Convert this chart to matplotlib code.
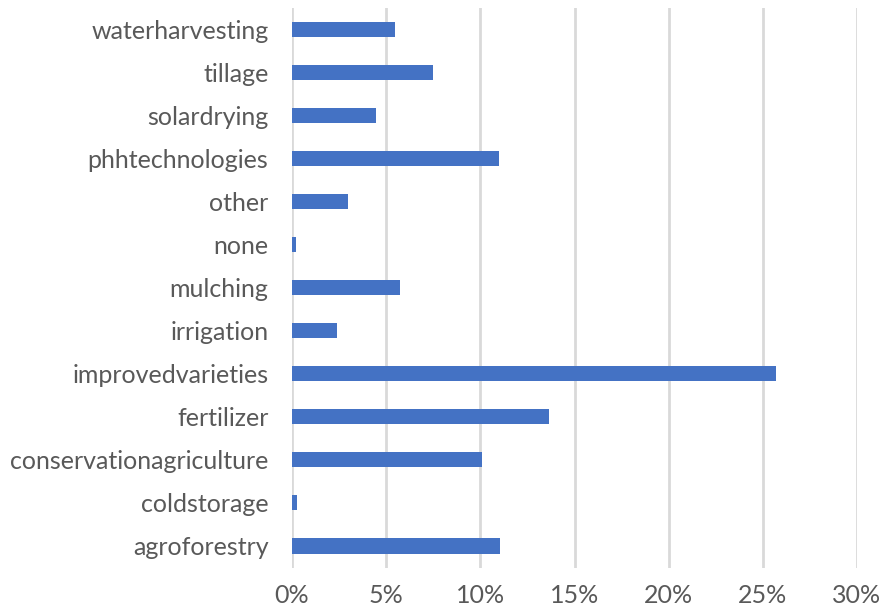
import matplotlib.pyplot as plt
from matplotlib.ticker import FuncFormatter

# Categories (bottom to top as drawn) and share of respondents
categories = ['agroforestry', 'coldstorage', 'conservationagriculture', 'fertilizer',
              'improvedvarieties', 'irrigation', 'mulching', 'none', 'other',
              'phhtechnologies', 'solardrying', 'tillage', 'waterharvesting']
shares = [0.1104, 0.0028, 0.1007, 0.1366, 0.2571, 0.0241, 0.0576, 0.0023, 0.0296,
          0.1100, 0.0448, 0.0750, 0.0547]
x_ticks = [0, 0.05, 0.10, 0.15, 0.20, 0.25, 0.30]

plt.rcParams['font.family'] = ['Lato', 'DejaVu Sans']

fig = plt.figure(figsize=(8.82, 6.11), dpi=100)
ax = fig.add_axes([292 / 882, 1 - 567.5 / 611, (857 - 292) / 882, (567.5 - 7.5) / 611])

ax.barh(range(len(categories)), shares, height=0.35, color='#4472C4', zorder=3)

ax.set_xlim(0, 0.30)
ax.set_ylim(-0.5, len(categories) - 0.5)
ax.set_xticks(x_ticks)
ax.xaxis.set_major_formatter(FuncFormatter(lambda v, p: f"{v * 100:.0f}%"))
ax.set_yticks(range(len(categories)))
ax.set_yticklabels(categories)

ax.grid(axis='x', color='#d9d9d9', linewidth=2, zorder=0)
for s in ax.spines.values():
    s.set_visible(False)
ax.tick_params(axis='both', length=0, labelsize=18, colors='#595959')
ax.tick_params(axis='y', pad=17)
ax.tick_params(axis='x', pad=12)

fig.savefig('out.png', dpi=100)
